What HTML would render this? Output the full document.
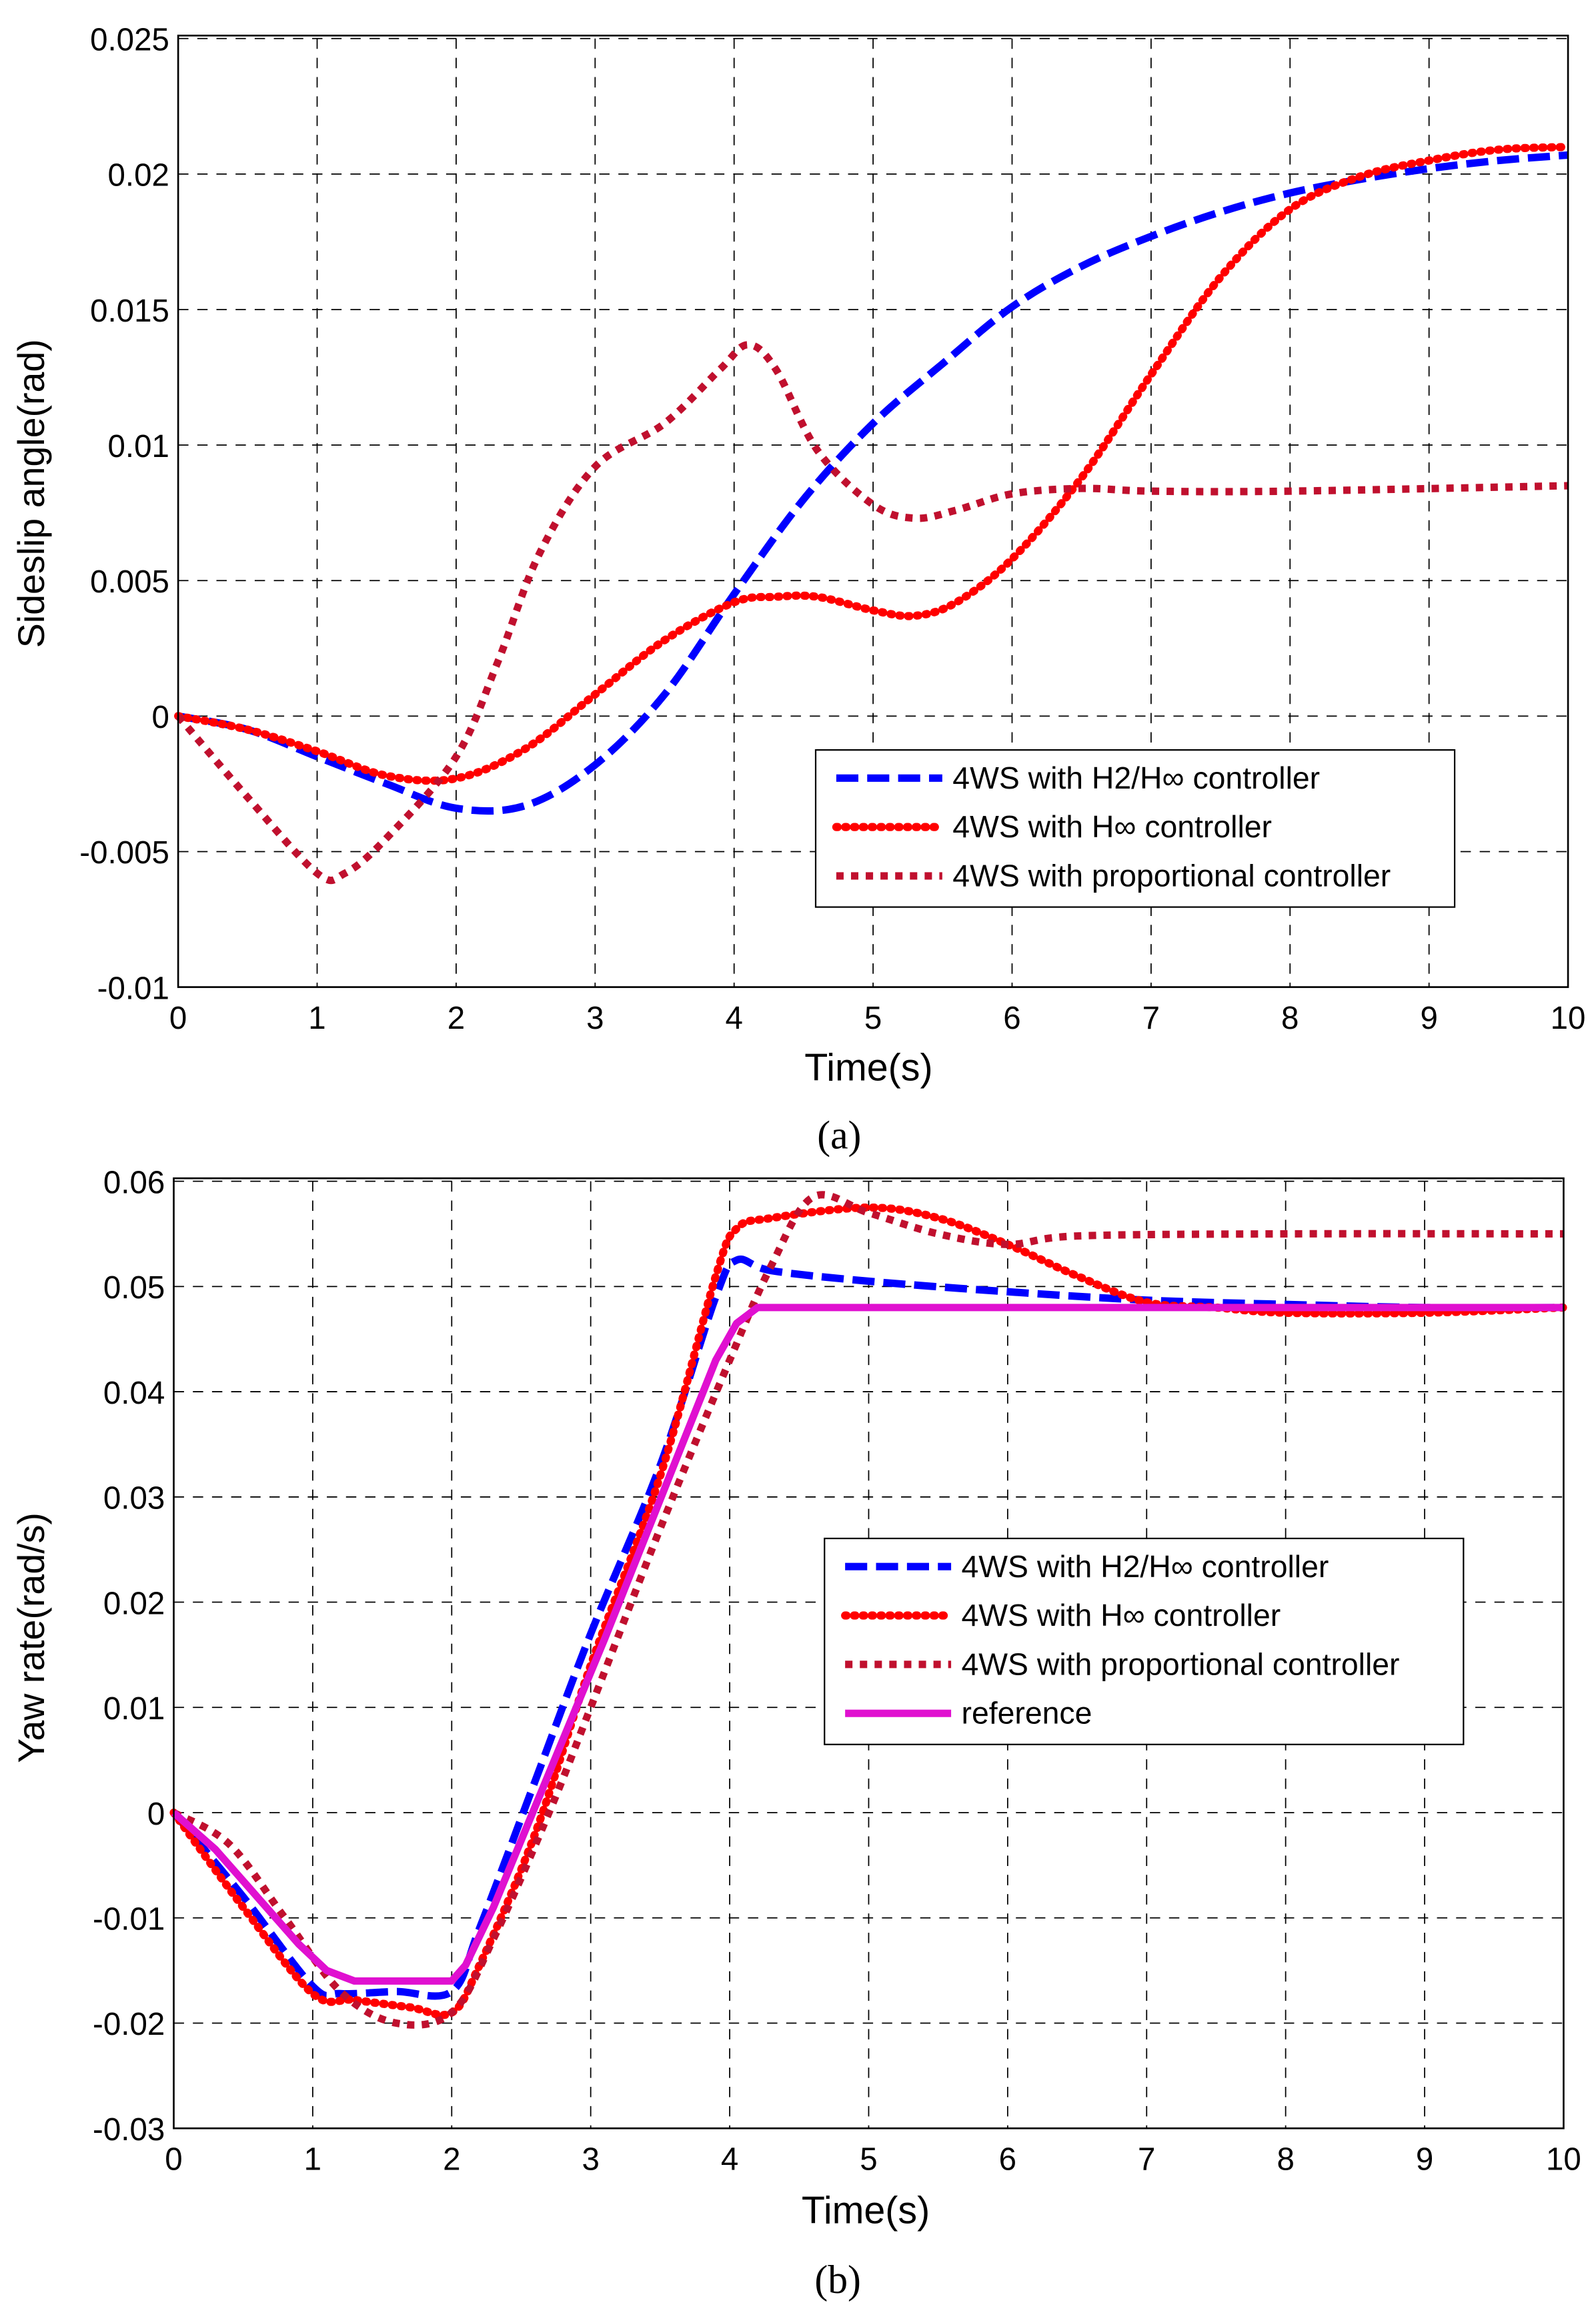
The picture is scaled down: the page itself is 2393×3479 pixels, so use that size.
<!DOCTYPE html>
<html><head><meta charset="utf-8"><style>
html,body{margin:0;padding:0;background:#fff;width:2393px;height:3479px;overflow:hidden}
svg{display:block}
text{font-family:"Liberation Sans",sans-serif;fill:#000}
</style></head><body>
<svg id="s" width="2393" height="3479" viewBox="0 0 1084 1566" preserveAspectRatio="none" xmlns="http://www.w3.org/2000/svg">
<rect width="1084" height="1566" fill="#fff"/>
<g id="g"></g>
<text x="42" y="345" font-size="25" text-anchor="middle" transform="rotate(-90 30 345)">Sideslip angle(rad)</text>
<text x="590" y="729" font-size="26" text-anchor="middle">Time(s)</text>
<text x="570" y="775" font-size="27" text-anchor="middle" style="font-family:'Liberation Serif',serif">(a)</text>
<text x="40" y="1115" font-size="25" text-anchor="middle" transform="rotate(-90 30 1115)">Yaw rate(rad/s)</text>
<text x="588" y="1500" font-size="26" text-anchor="middle">Time(s)</text>
<text x="569" y="1547" font-size="27" text-anchor="middle" style="font-family:'Liberation Serif',serif">(b)</text>
</svg>
<script>
const NS="http://www.w3.org/2000/svg",G=document.getElementById('g');
function el(t,a,p){const e=document.createElementNS(NS,t);for(const k in a)e.setAttribute(k,a[k]);(p||G).appendChild(e);return e;}
function txt(x,y,s,fs,anc){const e=el('text',{x:x,y:y,'font-size':fs,'text-anchor':anc||'start'});e.textContent=s;return e;}
function plot(P){
 const X=t=>P.x0+(P.x1-P.x0)*t/10, Y=v=>P.yb+(P.yt-P.yb)*(v-P.vmin)/(P.vmax-P.vmin);
 for(let i=1;i<10;i++)el('line',{x1:X(i),x2:X(i),y1:P.yt,y2:P.yb,stroke:'#000','stroke-width':0.8,'stroke-dasharray':'7,6'});
 for(const v of P.ticks){const y=Y(v);if(Math.abs(y-P.yt)>1&&Math.abs(y-P.yb)>1)el('line',{x1:P.x0,x2:P.x1,y1:y,y2:y,stroke:'#000','stroke-width':0.8,'stroke-dasharray':'7,6'});
  txt(P.x0-6,y+8,P.lab(v),21.5,'end');}
 el('line',{x1:P.x0,x2:P.x1,y1:P.yt,y2:P.yt,stroke:'#000','stroke-width':0.8,'stroke-dasharray':'7,6'});
 for(let i=0;i<=10;i++)txt(X(i),P.yb+28,String(i),21.5,'middle');
 for(const S of P.series){
  const pts=S.d.map(p=>[X(p[0]),Y(p[1])]);
  let d='M'+pts[0][0]+','+pts[0][1];
  if(S.lin){for(let i=1;i<pts.length;i++)d+=' L'+pts[i][0]+','+pts[i][1];}
  else for(let i=0;i<pts.length-1;i++){const p0=pts[Math.max(0,i-1)],p1=pts[i],p2=pts[i+1],p3=pts[Math.min(pts.length-1,i+2)];
   d+=' C'+(p1[0]+(p2[0]-p0[0])/6)+','+(p1[1]+(p2[1]-p0[1])/6)+' '+(p2[0]-(p3[0]-p1[0])/6)+','+(p2[1]-(p3[1]-p1[1])/6)+' '+p2[0]+','+p2[1];}
  el('path',Object.assign({d:d,fill:'none','stroke-linejoin':'round'},S.st));
 }
 el('rect',{x:P.x0,y:P.yt-2,width:P.x1-P.x0,height:P.yb-P.yt+2,fill:'none',stroke:'#000','stroke-width':1.2});
 const L=P.leg;el('rect',{x:L.x,y:L.y,width:L.w,height:L.h,fill:'#fff',stroke:'#000','stroke-width':1});
 P.series.forEach((S,i)=>{const y=L.y+19+i*33;
  el('line',Object.assign({x1:L.x+14,x2:L.x+86,y1:y,y2:y},S.st));
  txt(L.x+93,y+7,S.n,21);});
}
const blue={stroke:'#0000ff','stroke-width':5,'stroke-dasharray':'15,6'};
const red={stroke:'#ff0000','stroke-width':5.5,'stroke-dasharray':'1,5','stroke-linecap':'round'};
const prop={stroke:'#c0102e','stroke-width':5,'stroke-dasharray':'5,5'};
const mag={stroke:'#e010d0','stroke-width':5};
plot({x0:121,x1:1065,yt:26,yb:666,vmin:-0.01,vmax:0.025,ticks:[-0.01,-0.005,0,0.005,0.01,0.015,0.02,0.025],
 lab:v=>{const s=+v.toFixed(3);return s===0?'0':String(s);},
 leg:{x:554,y:506,w:434,h:106},
 series:[
 {n:'4WS with H2/H∞ controller',st:blue,d:[[0,0],[0.5,-0.0005],[1,-0.0015],[1.5,-0.0025],[2,-0.0034],[2.5,-0.0033],[3,-0.0018],[3.5,0.0008],[4,0.0045],[4.5,0.008],[5,0.0108],[5.5,0.013],[6,0.0151],[6.5,0.0166],[7,0.0177],[7.5,0.0186],[8,0.0193],[8.5,0.0198],[9,0.0202],[9.5,0.0205],[10,0.0207]]},
 {n:'4WS with H∞ controller',st:red,d:[[0,0],[0.5,-0.0005],[1,-0.0013],[1.5,-0.0022],[2,-0.0023],[2.5,-0.0012],[3,0.0008],[3.5,0.0028],[4,0.0042],[4.3,0.0044],[4.6,0.0044],[5,0.0039],[5.3,0.0037],[5.6,0.0042],[6,0.0058],[6.5,0.0088],[7,0.0126],[7.5,0.0162],[8,0.0187],[8.5,0.0199],[9,0.0205],[9.5,0.0209],[10,0.021]]},
 {n:'4WS with proportional controller',st:prop,d:[[0,0],[0.5,-0.003],[1,-0.0058],[1.2,-0.0058],[1.5,-0.0045],[2,-0.0015],[2.3,0.002],[2.6,0.006],[3,0.0092],[3.5,0.0108],[3.9,0.0128],[4.1,0.0137],[4.3,0.0128],[4.6,0.0098],[5,0.0078],[5.3,0.0073],[5.6,0.0076],[6,0.0082],[6.5,0.0084],[7,0.0083],[8,0.0083],[10,0.0085]]}
 ]});
plot({x0:118,x1:1062,yt:797,yb:1436,vmin:-0.03,vmax:0.06,ticks:[-0.03,-0.02,-0.01,0,0.01,0.02,0.03,0.04,0.05,0.06],
 lab:v=>{const s=+v.toFixed(2);return s===0?'0':(s<0?'-':'')+Math.abs(s).toFixed(2);},
 leg:{x:560,y:1038,w:434,h:139},
 series:[
 {n:'4WS with H2/H∞ controller',st:blue,d:[[0,0],[0.5,-0.008],[1,-0.0165],[1.2,-0.0172],[1.6,-0.017],[2,-0.017],[2.2,-0.011],[2.6,0.003],[3,0.017],[3.5,0.033],[3.9,0.049],[4.05,0.0525],[4.3,0.0515],[5,0.0505],[6,0.0495],[7,0.0487],[8,0.0483],[9,0.048],[10,0.048]]},
 {n:'4WS with H∞ controller',st:red,d:[[0,0],[0.5,-0.009],[1,-0.0172],[1.3,-0.0178],[1.7,-0.0185],[2,-0.019],[2.2,-0.0145],[2.6,-0.002],[3,0.014],[3.5,0.032],[3.9,0.051],[4.05,0.0555],[4.3,0.0565],[5,0.0575],[5.5,0.0565],[6,0.054],[6.5,0.051],[7,0.0485],[7.5,0.048],[8,0.0475],[9,0.0475],[10,0.048]]},
 {n:'4WS with proportional controller',st:prop,d:[[0,0],[0.4,-0.003],[0.8,-0.01],[1.2,-0.017],[1.6,-0.02],[2,-0.019],[2.3,-0.012],[2.7,0.0],[3,0.01],[3.5,0.027],[4,0.043],[4.3,0.052],[4.6,0.0585],[5,0.057],[5.5,0.055],[6,0.054],[6.5,0.0548],[8,0.055],[10,0.055]]},
 {n:'reference',st:mag,lin:true,d:[[0,0],[0.3,-0.0035],[0.6,-0.008],[0.9,-0.0125],[1.1,-0.015],[1.3,-0.016],[2,-0.016],[2.1,-0.0145],[2.3,-0.009],[3.1,0.0165],[3.9,0.043],[4.05,0.0465],[4.2,0.048],[5,0.048],[10,0.048]]}
 ]});
</script>
</body></html>
